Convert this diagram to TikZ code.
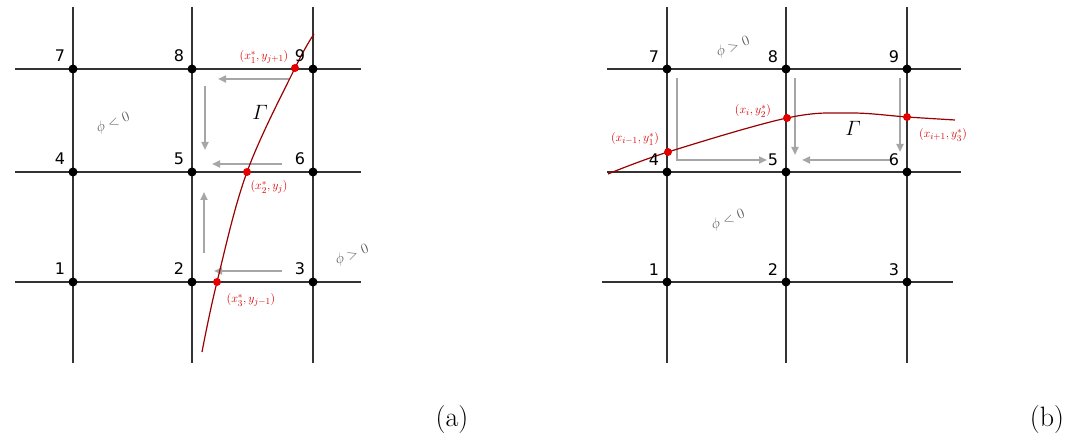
\documentclass[tikz,border=0pt]{standalone}
\usepackage{amsmath}
\usepackage{fontspec}
\newfontfamily\numfont{DejaVu Sans}
\usetikzlibrary{arrows.meta,calc}
\begin{document}
\begin{tikzpicture}[x=1pt,y=-1pt,
  gridline/.style={draw=black!80,line width=1.6pt},
  dot/.style={circle,fill=black,inner sep=0pt,minimum size=9pt},
  num/.style={font=\numfont\fontsize{16}{16}\selectfont,inner sep=0pt},
  garrow/.style={draw=black!35,line width=2pt,-{Triangle[length=8pt,width=7pt]}},
  curve/.style={draw=red!60!black,line width=1.2pt},
  rdot/.style={circle,fill=red!90!black,inner sep=0pt,minimum size=8pt},
  rlbl/.style={text=red!85!black,font=\fontsize{13}{14}\selectfont,inner sep=0pt},
  phil/.style={text=black!65,font=\fontsize{15}{16}\selectfont,rotate=20,inner sep=0pt},
  gam/.style={font=\fontsize{20}{22}\selectfont,inner sep=0pt},
  panel/.style={font=\fontsize{28}{30}\selectfont,inner sep=0pt}]
\useasboundingbox (0,0) rectangle (1066,443);

% ---------------- panel (a) ----------------
\foreach \yy in {69,172,282} \draw[gridline] (15,\yy) -- (361,\yy);
\foreach \xx in {73,192,313} \draw[gridline] (\xx,7) -- (\xx,363);

% gray arrows (a)
\draw[garrow] (290,79) -- (218,79);
\draw[garrow] (205,86) -- (205,150);
\draw[garrow] (282,164) -- (212,164);
\draw[garrow] (204,253) -- (204,192);
\draw[garrow] (282,271) -- (214,271);

% interface (a)
\draw[curve] plot[smooth,tension=0.6] coordinates {(202,352) (217,282) (247,172) (295,68) (314,34)};

% grid nodes (a)
\node[dot] (a1) at (73,282) {};
\node[dot] (a2) at (192,282) {};
\node[dot] (a3) at (313,282) {};
\node[dot] (a4) at (73,172) {};
\node[dot] (a5) at (192,172) {};
\node[dot] (a6) at (313,172) {};
\node[dot] (a7) at (73,69) {};
\node[dot] (a8) at (192,69) {};
\node[dot] (a9) at (313,69) {};
\foreach \n in {1,...,9} \node[num] (an\n) at ([shift={(-13,-13)}]a\n) {\n};

% red intersection points (a)
\node[rdot] (ra1) at (295,68) {};
\node[rdot] (ra2) at (247,172) {};
\node[rdot] (ra3) at (217,282) {};
\node[rlbl] (la1) at (264,57) {$(x_1^*,y_{j+1})$};
\node[rlbl] (la2) at (269,187) {$(x_2^*,y_j)$};
\node[rlbl] (la3) at (251,300) {$(x_3^*,y_{j-1})$};

\node[gam] (ga) at (260,112) {$\varGamma$};
\node[phil] (pa1) at (113,123) {$\phi<0$};
\node[phil] (pa2) at (352,255) {$\phi>0$};
\node[panel] (pa) at (452,420) {(a)};

% ---------------- panel (b) ----------------
\foreach \yy in {69,172} \draw[gridline] (607,\yy) -- (961,\yy);
\draw[gridline] (602,282) -- (953,282);
\foreach \xx in {667,786,907} \draw[gridline] (\xx,7) -- (\xx,363);

% gray arrows (b)
\draw[garrow] (677,78) -- (677,160) -- (767,160);
\draw[garrow] (795,78) -- (795,155);
\draw[garrow] (890,160) -- (802,160);
\draw[garrow] (900,78) -- (900,152);

% interface (b)
\draw[curve] plot[smooth,tension=0.6] coordinates {(608,174) (668,152) (787,118) (850,113) (907,117) (955,120)};

% grid nodes (b)
\node[dot] (b1) at (667,282) {};
\node[dot] (b2) at (786,282) {};
\node[dot] (b3) at (907,282) {};
\node[dot] (b4) at (667,172) {};
\node[dot] (b5) at (786,172) {};
\node[dot] (b6) at (907,172) {};
\node[dot] (b7) at (667,69) {};
\node[dot] (b8) at (786,69) {};
\node[dot] (b9) at (907,69) {};
\foreach \n in {1,...,9} \node[num] (bn\n) at ([shift={(-13,-12)}]b\n) {\n};

% red intersection points (b)
\node[rdot] (rb1) at (668,152) {};
\node[rdot] (rb2) at (787,118) {};
\node[rdot] (rb3) at (907,117) {};
\node[rlbl] (lb1) at (635,139) {$(x_{i-1},y_1^*)$};
\node[rlbl] (lb2) at (753,111) {$(x_i,y_2^*)$};
\node[rlbl] (lb3) at (943,135) {$(x_{i+1},y_3^*)$};

\node[gam] (gb) at (853,128) {$\varGamma$};
\node[phil] (pb1) at (733,47) {$\phi>0$};
\node[phil] (pb2) at (728,220) {$\phi<0$};
\node[panel] (pb) at (1047,420) {(b)};
\end{tikzpicture}
\end{document}
